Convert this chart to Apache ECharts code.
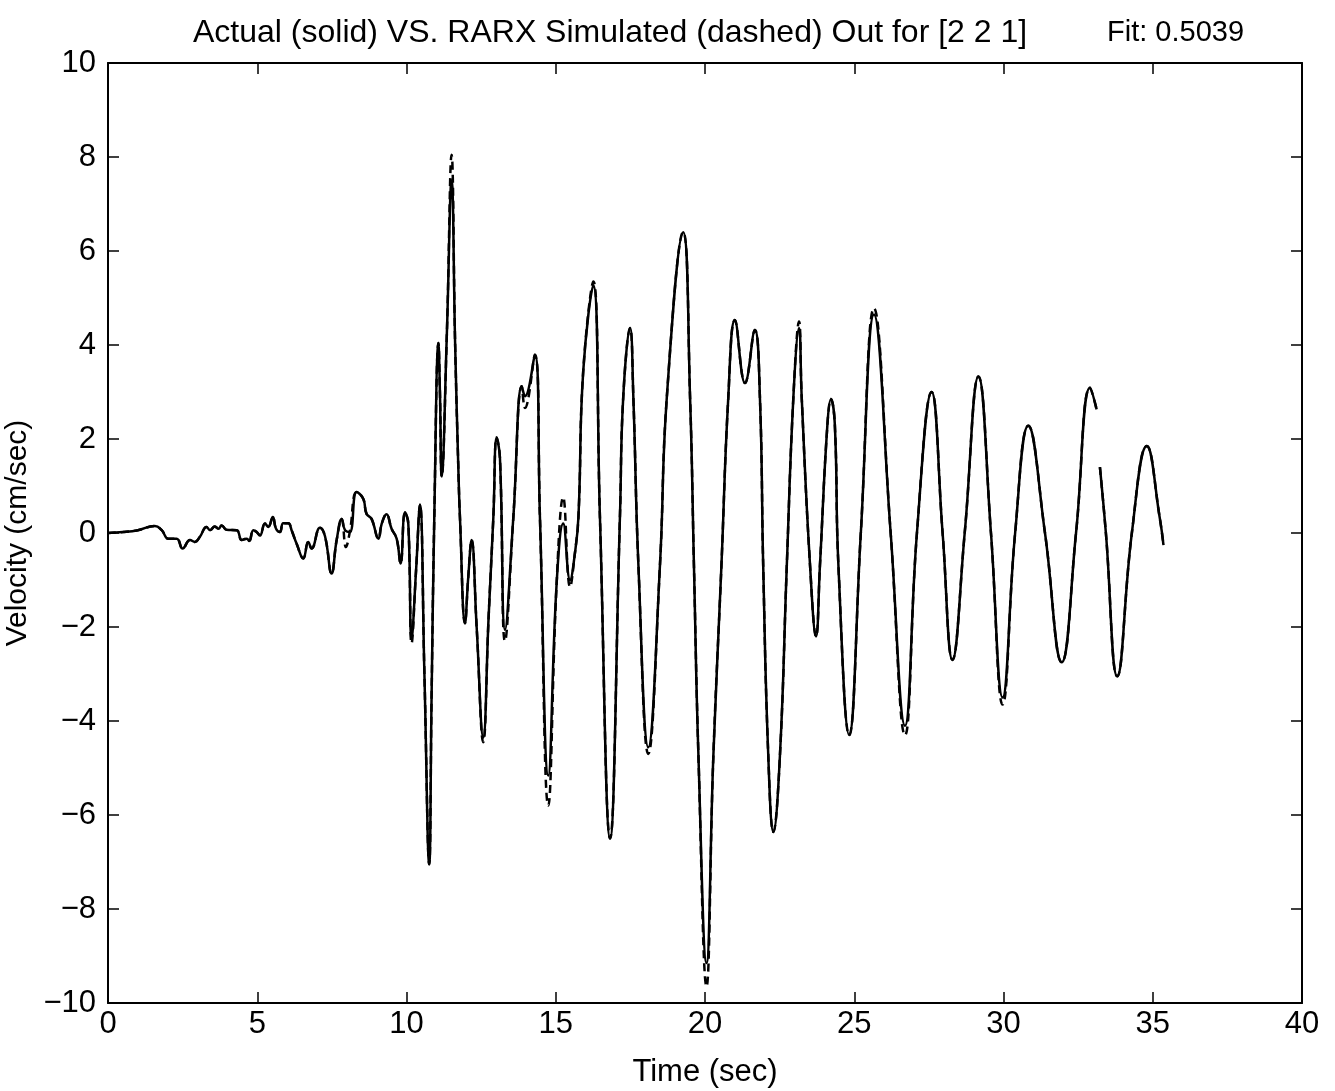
<!DOCTYPE html>
<html>
<head>
<meta charset="utf-8">
<title>RARX velocity fit</title>
<script src="https://cdn.jsdelivr.net/npm/echarts@6/dist/echarts.min.js"></script>
<style>
  html, body { margin: 0; padding: 0; background: #ffffff; }
  #chart { width: 1335px; height: 1091px; }
</style>
</head>
<body>
<div id="chart"></div>
<script>
// Measured ground velocity: [time (sec), velocity (cm/sec)]
const actualTrace = [
  [0, 0], [0.5, 0.02], [1.0, 0.06], [1.57, 0.15], [1.8, 0.06], [2.02, -0.12], [2.3, -0.12],
  [2.5, -0.33], [2.75, -0.15], [2.91, -0.19], [3.08, -0.08], [3.3, 0.13], [3.42, 0.06],
  [3.58, 0.14], [3.7, 0.09], [3.81, 0.16], [3.97, 0.07], [4.31, 0.06], [4.48, -0.15],
  [4.65, -0.12], [4.73, -0.17], [4.87, 0.06], [4.98, 0.02], [5.09, -0.05], [5.26, 0.2],
  [5.37, 0.13], [5.52, 0.34], [5.63, 0.09], [5.76, 0.02], [5.87, 0.21], [6.04, 0.21],
  [6.15, 0.06], [6.32, -0.23], [6.54, -0.54], [6.71, -0.19], [6.82, -0.33], [7.1, 0.11],
  [7.27, -0.07], [7.49, -0.86], [7.66, -0.15], [7.83, 0.3], [7.94, 0.06], [8.1, 0.02],
  [8.33, 0.87], [8.55, 0.73], [8.66, 0.41], [8.83, 0.3], [9.06, -0.12], [9.17, 0.2],
  [9.33, 0.4], [9.5, 0.09], [9.67, -0.12], [9.8, -0.65], [9.95, 0.44], [10.06, 0.2],
  [10.17, -2.25], [10.32, -0.8], [10.45, 0.6], [10.6, -3.0], [10.76, -7.05], [10.84, -3.5],
  [10.93, 0.3], [11.07, 4.04], [11.12, 3.0], [11.18, 1.2], [11.35, 4.2], [11.51, 7.5],
  [11.63, 4.0], [11.74, 1.3], [11.79, 0.34], [11.96, -1.92], [12.07, -0.93], [12.18, -0.15],
  [12.35, -2.0], [12.57, -4.35], [12.75, -1.8], [12.91, 0.34], [13.02, 2.03], [13.13, 1.6],
  [13.3, -2.06], [13.58, 0.34], [13.86, 3.12], [13.97, 2.91], [14.3, 3.79], [14.47, 0.34],
  [14.75, -5.16], [15.03, -1.07], [15.25, 0.2], [15.48, -1.0], [15.64, -0.44], [15.76, 0.34],
  [15.92, 3.44], [16.26, 5.27], [16.48, 0.34], [16.82, -6.5], [17.15, 0.34], [17.26, 2.88],
  [17.49, 4.36], [17.6, 2.88], [17.77, -0.7], [18.1, -4.56], [18.49, -0.7], [18.72, 2.88],
  [19.27, 6.4], [19.5, 2.88], [19.63, -0.7], [19.78, -4.74], [20.05, -9.15], [20.28, -4.74],
  [20.55, -0.7], [20.78, 2.88], [21.0, 4.53], [21.34, 3.19], [21.67, 4.32], [21.84, 2.88],
  [21.95, -0.7], [22.12, -4.74], [22.29, -6.36], [22.51, -4.74], [22.74, -0.7], [22.96, 2.88],
  [23.15, 4.36], [23.24, 2.88], [23.52, -0.7], [23.72, -2.2], [23.85, -0.7], [24.1, 2.3],
  [24.22, 2.85], [24.35, 2.3], [24.47, -0.7], [24.83, -4.3], [25.22, 0], [25.66, 4.65],
  [26.22, 0], [26.7, -4.1], [27.1, 0], [27.59, 3.0], [27.96, 0], [28.29, -2.7], [28.7, 0],
  [29.16, 3.33], [29.58, 0], [29.97, -3.5], [30.39, 0], [30.83, 2.28], [31.39, 0],
  [31.95, -2.75], [32.43, 0], [32.9, 3.09], [33.12, 2.63], [33.17, null],
  [33.23, 1.4], [33.43, 0], [33.81, -3.05], [34.3, 0], [34.8, 1.85], [35.24, 0.3], [35.36, -0.26]
];

// RARX model output: [time (sec), velocity (cm/sec)]
const simulatedTrace = [
  [0, 0], [0.5, 0.02], [1.0, 0.06], [1.57, 0.15], [1.8, 0.06], [2.02, -0.12], [2.3, -0.12],
  [2.5, -0.33], [2.75, -0.15], [2.91, -0.19], [3.08, -0.08], [3.3, 0.13], [3.42, 0.06],
  [3.58, 0.14], [3.7, 0.09], [3.81, 0.16], [3.97, 0.07], [4.31, 0.06], [4.48, -0.15],
  [4.65, -0.12], [4.73, -0.17], [4.87, 0.06], [4.98, 0.02], [5.09, -0.05], [5.26, 0.2],
  [5.37, 0.13], [5.52, 0.34], [5.63, 0.09], [5.76, 0.02], [5.87, 0.21], [6.04, 0.21],
  [6.15, 0.06], [6.32, -0.23], [6.54, -0.54], [6.71, -0.19], [6.82, -0.33], [7.1, 0.11],
  [7.27, -0.07], [7.49, -0.86], [7.66, -0.15], [7.83, 0.3], [7.97, -0.3], [8.1, 0.02],
  [8.33, 0.87], [8.55, 0.73], [8.66, 0.41], [8.83, 0.3], [9.06, -0.12], [9.17, 0.2],
  [9.33, 0.4], [9.5, 0.09], [9.67, -0.12], [9.8, -0.65], [9.95, 0.44], [10.06, 0.2],
  [10.17, -2.35], [10.32, -0.8], [10.45, 0.6], [10.6, -3.0], [10.76, -7.05], [10.84, -3.5],
  [10.93, 0.3], [11.07, 4.04], [11.12, 3.0], [11.18, 1.2], [11.35, 4.2], [11.51, 8.05],
  [11.63, 4.0], [11.74, 1.3], [11.79, 0.34], [11.96, -1.92], [12.07, -0.93], [12.18, -0.15],
  [12.35, -2.0], [12.57, -4.45], [12.75, -1.8], [12.91, 0.34], [13.02, 2.03], [13.13, 1.6],
  [13.3, -2.3], [13.58, 0.34], [13.86, 3.12], [13.97, 2.66], [14.3, 3.79], [14.47, 0.34],
  [14.75, -5.8], [15.03, -1.07], [15.25, 0.76], [15.48, -1.15], [15.64, -0.44], [15.76, 0.34],
  [15.92, 3.44], [16.26, 5.35], [16.48, 0.34], [16.82, -6.5], [17.15, 0.34], [17.26, 2.88],
  [17.49, 4.36], [17.6, 2.88], [17.77, -0.7], [18.1, -4.7], [18.49, -0.7], [18.72, 2.88],
  [19.27, 6.4], [19.5, 2.88], [19.63, -0.7], [19.78, -4.74], [20.05, -9.65], [20.28, -4.74],
  [20.55, -0.7], [20.78, 2.88], [21.0, 4.53], [21.34, 3.19], [21.67, 4.32], [21.84, 2.88],
  [21.95, -0.7], [22.12, -4.74], [22.29, -6.36], [22.51, -4.74], [22.74, -0.7], [22.96, 2.88],
  [23.15, 4.5], [23.24, 2.88], [23.52, -0.7], [23.72, -2.2], [23.85, -0.7], [24.1, 2.3],
  [24.22, 2.85], [24.35, 2.3], [24.47, -0.7], [24.83, -4.3], [25.22, 0], [25.66, 4.78],
  [26.22, 0], [26.7, -4.3], [27.1, 0], [27.59, 3.0], [27.96, 0], [28.29, -2.7], [28.7, 0],
  [29.16, 3.33], [29.58, 0], [29.97, -3.65], [30.39, 0], [30.83, 2.28], [31.39, 0],
  [31.95, -2.75], [32.43, 0], [32.9, 3.09], [33.12, 2.63], [33.17, null],
  [33.23, 1.4], [33.43, 0], [33.81, -3.05], [34.3, 0], [34.8, 1.85], [35.24, 0.3], [35.36, -0.26]
];

const timeTicks = [0, 5, 10, 15, 20, 25, 30, 35, 40];
const velocityTicks = [-10, -8, -6, -4, -2, 0, 2, 4, 6, 8, 10];

const chartTitle = 'Actual (solid) VS. RARX Simulated (dashed) Out for [2 2 1]';
const fitText = 'Fit: 0.5039';
const timeName = 'Time (sec)';
const velocityName = 'Velocity (cm/sec)';

const FONT = '"Liberation Sans", Arial, Helvetica, sans-serif';
const INK = '#000000';

const chart = echarts.init(document.getElementById('chart'), null, { renderer: 'canvas' });

function frameAxis(base) {
  return Object.assign({
    axisLine: { show: true, onZero: false, lineStyle: { color: INK, width: 2 } },
    axisTick: { show: true, inside: true, length: 11, lineStyle: { color: INK, width: 1.5 } },
    splitLine: { show: false }
  }, base);
}

const xMin = timeTicks[0], xMax = timeTicks[timeTicks.length - 1];
const yMin = velocityTicks[0], yMax = velocityTicks[velocityTicks.length - 1];
const xStep = timeTicks[1] - timeTicks[0];
const yStep = velocityTicks[1] - velocityTicks[0];

const option = {
  backgroundColor: '#ffffff',
  animation: false,
  title: [
    { text: chartTitle, left: 188, top: 12,
      textStyle: { fontFamily: FONT, fontSize: 32, fontWeight: 'normal', color: INK } },
    { text: fitText, left: 1102, top: 13,
      textStyle: { fontFamily: FONT, fontSize: 29, fontWeight: 'normal', color: INK } }
  ],
  grid: {
    left: 108, right: 33, top: 63, bottom: 88,
    containLabel: false, outerBoundsMode: 'none'
  },
  xAxis: [
    frameAxis({
      type: 'value', position: 'bottom', min: xMin, max: xMax, interval: xStep,
      name: timeName, nameLocation: 'middle', nameGap: 54,
      nameTextStyle: { fontFamily: FONT, fontSize: 31, color: INK },
      axisLabel: { fontFamily: FONT, fontSize: 31, color: INK, margin: 6 }
    }),
    frameAxis({
      type: 'value', position: 'top', min: xMin, max: xMax, interval: xStep,
      axisLabel: { show: false }
    })
  ],
  yAxis: [
    frameAxis({
      type: 'value', position: 'left', min: yMin, max: yMax, interval: yStep,
      name: velocityName, nameLocation: 'middle', nameGap: 56, nameRotate: 90,
      nameTextStyle: { fontFamily: FONT, fontSize: 30, color: INK },
      axisLabel: {
        fontFamily: FONT, fontSize: 31, color: INK, margin: 12,
        formatter: v => String(v).replace('-', '\u2212')
      }
    }),
    frameAxis({
      type: 'value', position: 'right', min: yMin, max: yMax, interval: yStep,
      axisLabel: { show: false }
    })
  ],
  series: [
    {
      name: 'Actual', type: 'line', data: actualTrace, xAxisIndex: 0, yAxisIndex: 0,
      showSymbol: false, smooth: 0.45, connectNulls: false,
      lineStyle: { color: INK, width: 2.5 }, z: 3
    },
    {
      name: 'Simulated', type: 'line', data: simulatedTrace, xAxisIndex: 0, yAxisIndex: 0,
      showSymbol: false, smooth: 0.45, connectNulls: false,
      lineStyle: { color: INK, width: 2.5, type: [8, 5] }, z: 2
    }
  ]
};

chart.setOption(option);
</script>
</body>
</html>
